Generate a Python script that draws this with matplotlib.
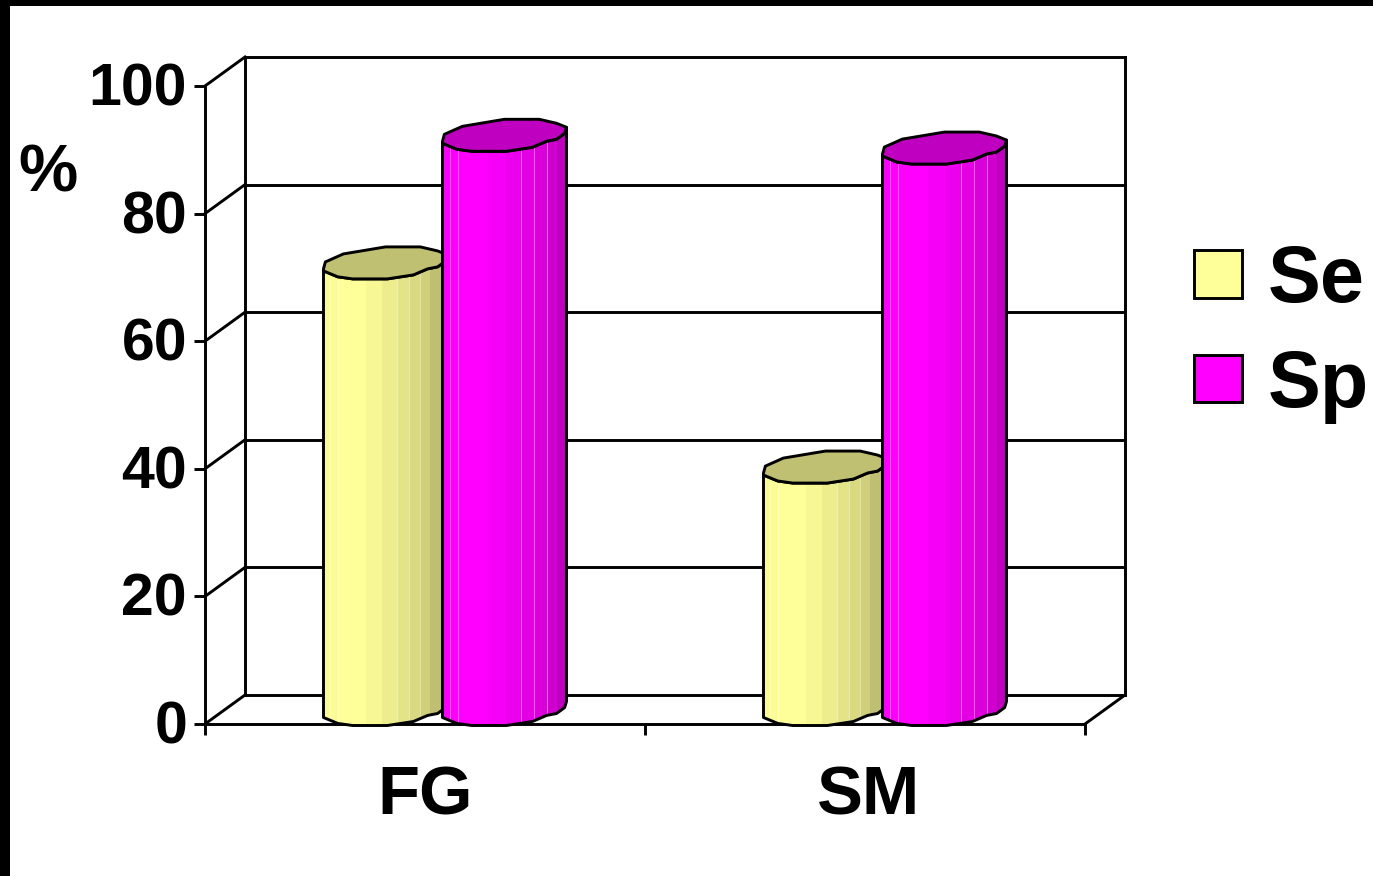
import matplotlib
matplotlib.use('Agg')
import matplotlib.pyplot as plt
from matplotlib.patches import Patch, Polygon, Rectangle
from matplotlib.transforms import ScaledTranslation
import numpy as np

plt.rcParams['font.family'] = ['Liberation Sans', 'DejaVu Sans']
plt.rcParams['font.weight'] = 'bold'

# Chart values
categories = ['FG', 'SM']
series_names = ['Se', 'Sp']
se_values = [70, 38]
sp_values = [90, 88]
y_ticks = [0, 20, 40, 60, 80, 100]

W, H = 1373, 876
LINE = 2.1

# Floor depth and cylinder size, in data units
depth_x = 40 / 440
depth_y = 29 / 6.38
radius = 62 / 440
cap_h = 16 / 6.38
bar_shift = 59.5 / 440

# Outline of the cylinder end, going round from the left tip (unit radius)
cap_u = np.array([-1.0, -0.97, -0.68, 0.0, 0.56, 0.84, 1.0, 0.97, 0.84, 0.68, 0.45, 0.03, -0.53, -0.77, -1.0])
cap_v = np.array([-0.37, 0.06, 0.56, 1.0, 1.0, 0.75, 0.5, 0.12, -0.25, -0.37, -0.75, -1.0, -1.0, -0.87, -0.5])
front = 6  # index of the right tip, the front half runs from here to the end

# Vertical shading bands across a cylinder
band_edges = [0, 0.06, 0.125, 0.23, 0.365, 0.51, 0.635, 0.74, 0.84, 0.92, 1.0]
band_shade = [0.98, 0.99, 1.0, 1.0, 0.97, 0.93, 0.89, 0.85, 0.81, 0.75]
hairlines = [0.06, 0.125, 0.635, 0.74, 0.84]


def draw_cylinder(ax, xc, value, color, top_color, z, span=1.0):
    base = depth_y / 2
    top = base + value
    xs = xc + radius * cap_u
    ys = cap_h * cap_v

    # Body outline: left side, front of the bottom end, right side, front of the top end
    body_pts = np.vstack([
        np.column_stack([xs[front:], top + ys[front:]]),
        np.column_stack([xs[front:][::-1], base + ys[front:][::-1]]),
    ])
    body = Polygon(body_pts, closed=True, facecolor='none', edgecolor='black',
                   linewidth=LINE, joinstyle='round', clip_on=False, zorder=z + 2)
    ax.add_patch(body)

    rgb = np.array(color)
    left = xc - radius
    width = 2 * radius * span
    for i, shade in enumerate(band_shade):
        x0 = left + width * band_edges[i]
        x1 = left + width * band_edges[i + 1]
        if i == len(band_shade) - 1:
            x1 = xc + radius
        r = Rectangle((x0, -cap_h), x1 - x0 + 0.001, top + 2 * cap_h, facecolor=rgb * shade,
                      edgecolor='none', zorder=z)
        ax.add_patch(r)
        r.set_clip_box(None)
        r.set_clip_path(body)
    for f in hairlines:
        ln, = ax.plot([left + width * f] * 2, [-cap_h, top + cap_h], color='white',
                      lw=0.7, alpha=0.4, zorder=z + 1)
        ln.set_clip_box(None)
        ln.set_clip_path(body)

    # Top end
    ax.add_patch(Polygon(np.column_stack([xs, top + ys]), closed=True, facecolor=top_color,
                         edgecolor='black', linewidth=LINE, joinstyle='round',
                         clip_on=False, zorder=z + 3))


fig = plt.figure(figsize=(W / 100, H / 100), dpi=100, facecolor='white')

# Front plane of the 3D box
ax = fig.add_axes([205 / W, 1 - 724 / H, 880 / W, 638 / H])
ax.patch.set_visible(False)
ax.set_xlim(-0.5, 1.5)
ax.set_ylim(0, 100)

for side in ['top', 'right']:
    ax.spines[side].set_visible(False)
for side in ['left', 'bottom']:
    ax.spines[side].set_linewidth(LINE)

ax.set_yticks(y_ticks)
ax.tick_params(axis='y', length=8, width=LINE, labelsize=42.5, pad=5)
lift = ScaledTranslation(0, 2 / 100, fig.dpi_scale_trans)
for lab in ax.get_yticklabels():
    lab.set_transform(lab.get_transform() + lift)
ax.set_xticks([0, 1])
ax.set_xticklabels(categories, fontsize=49.5)
ax.set_xticks([-0.5, 0.5, 1.5], minor=True)
ax.tick_params(axis='x', which='major', length=0, pad=29)
ax.tick_params(axis='x', which='minor', length=8, width=LINE)
sm_label = ax.get_xticklabels()[1]
sm_label.set_transform(sm_label.get_transform() + ScaledTranslation(4 / 100, 0, fig.dpi_scale_trans))

# Back wall, side wall and floor
x_left, x_right = -0.5, 1.5
wall_style = dict(color='black', lw=LINE, clip_on=False, zorder=1)
for t in y_ticks:
    ax.plot([x_left, x_left + depth_x], [t, t + depth_y], **wall_style)
    ax.plot([x_left + depth_x, x_right + depth_x], [t + depth_y, t + depth_y], **wall_style)
ax.plot([x_left + depth_x] * 2, [depth_y, 100 + depth_y], **wall_style)
ax.plot([x_right + depth_x] * 2, [depth_y, 100 + depth_y], **wall_style)
ax.plot([x_right, x_right + depth_x], [0, depth_y], **wall_style)

# Cylinders, Se behind Sp
yellow = (1.0, 1.0, 0.6)
magenta = (1.0, 0.0, 1.0)
for i in range(len(categories)):
    center = i + depth_x / 2
    draw_cylinder(ax, center - bar_shift, se_values[i], yellow, '#c0c073', 3, span=0.93)
    draw_cylinder(ax, center + bar_shift, sp_values[i], magenta, '#c000c0', 8)

handles = [Patch(facecolor='#ffff99', edgecolor='black', linewidth=LINE, label=series_names[0]),
           Patch(facecolor='#ff00ff', edgecolor='black', linewidth=LINE, label=series_names[1])]
ax.legend(handles=handles, loc='center left', bbox_to_anchor=((1194 - 205) / 880, (724 - 334) / 638),
          frameon=False, fontsize=57, handlelength=0.6, handleheight=0.55, handletextpad=0.33,
          labelspacing=0.37, borderpad=0, borderaxespad=0)

fig.text(48 / W, 1 - 175 / H, '%', fontsize=48, ha='center', va='center')

# Black edge along the left and top of the slide
fig.patches.append(Rectangle((0, 0), 10 / W, 1, transform=fig.transFigure, facecolor='black', edgecolor='none'))
fig.patches.append(Rectangle((0, 1 - 6 / H), 1, 6 / H, transform=fig.transFigure, facecolor='black', edgecolor='none'))

fig.savefig('out.png', dpi=100, facecolor='white')
